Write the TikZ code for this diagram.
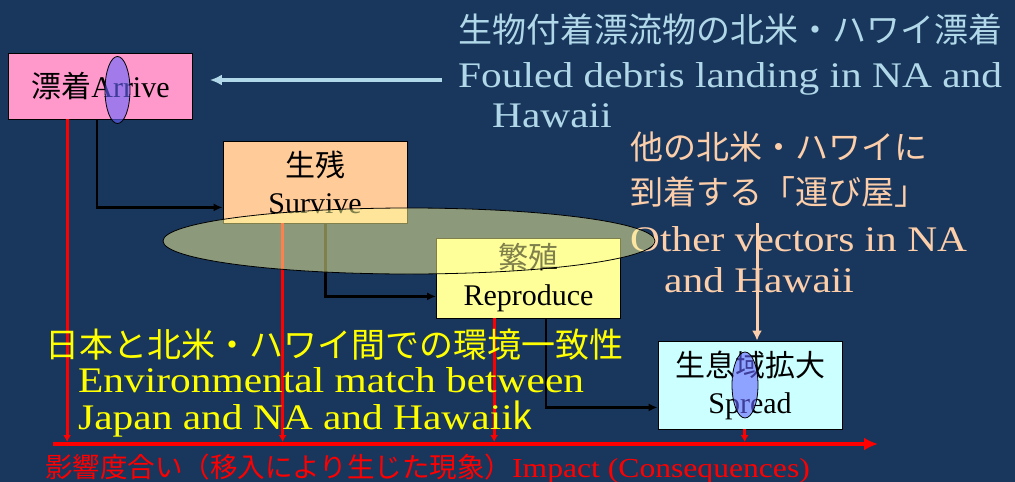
\documentclass[tikz,border=0pt]{standalone}
\usepackage{fontspec}
\setmainfont{Liberation Serif}
\newfontfamily\jp{Noto Sans CJK JP}
\newfontfamily\widerm{Liberation Serif}[FakeStretch=1.15]
\usetikzlibrary{arrows.meta,positioning,calc,shapes.geometric}
\definecolor{bg}{RGB}{25,54,93}
\definecolor{arrivefill}{RGB}{255,153,204}
\definecolor{survivefill}{RGB}{255,204,153}
\definecolor{reprofill}{RGB}{255,255,153}
\definecolor{spreadfill}{RGB}{204,255,255}
\definecolor{lblue}{RGB}{176,216,232}
\definecolor{peach}{RGB}{252,206,170}
\definecolor{yel}{RGB}{255,255,0}
\definecolor{impred}{RGB}{255,0,0}
\definecolor{markfill}{RGB}{102,102,255}

\begin{document}
\begin{tikzpicture}[
    x=1pt,y=-1pt,
    >={Latex[length=9pt,width=8pt]},
    box/.style={
        draw=black,
        line width=0.8pt,
        minimum width=184pt,
        inner sep=0pt,
        align=center,
        text=black,
        font=\fontsize{30}{37}\selectfont
    },
    big/.style={anchor=base west, inner sep=0pt, font=\widerm\fontsize{36}{40}\selectfont},
    bigjp/.style={anchor=base west, inner sep=0pt, font=\jp\fontsize{34}{40}\selectfont},
    conn/.style={->, line width=2.4pt, draw=black},
    hit/.style={->, line width=3pt, draw=impred, >={Latex[length=7pt,width=8pt]}, shorten >=2pt},
    marker/.style={ellipse, draw=black, line width=0.8pt, fill=markfill, fill opacity=0.6, inner sep=0pt}
]

% Background
\fill[bg] (0,0) rectangle (1015,482);
\useasboundingbox (0,0) rectangle (1015,482);

% Stage boxes
\node[box, fill=arrivefill, minimum height=66pt] (arrive) at (100.5,86) {{\jp 漂着}Arrive};
\node[box, fill=survivefill, minimum height=82pt] (survive) at (315,182) {{\jp 生残}\\Survive};
\node[box, fill=reprofill, minimum height=80pt] (repro) at (528.5,278) {{\jp 繁殖}\\Reproduce};
\node[box, fill=spreadfill, minimum height=88pt] (spread) at (750,385) {{\jp 生息域拡大}\\Spread};

% Impact axis
\coordinate (axl) at (53,444);
\coordinate (axr) at (878,444);
\draw[impred, line width=4pt, ->, >={Latex[length=14pt,width=13pt]}] (axl) -- (axr);

% Impact of each stage
\coordinate (i1) at ([xshift=59pt]arrive.south west);
\coordinate (i2) at ([xshift=60pt]survive.south west);
\coordinate (i3) at ([xshift=58pt]repro.south west);
\coordinate (i4) at ([xshift=87pt]spread.south west);
\foreach \p in {i1,i2,i3,i4}
    \draw[hit] (\p) -- (\p |- axl);

% Stage to stage
\coordinate (s1) at ([xshift=89pt]arrive.south west);
\coordinate (s2) at ([xshift=103pt]survive.south west);
\coordinate (s3) at ([xshift=110pt]repro.south west);
\draw[conn] (s1) |- ([yshift=16pt]survive.south west);
\draw[conn] (s2) |- ([yshift=22pt]repro.south west);
\draw[conn] (s3) |- ([yshift=22pt]spread.south west);

% Fouled debris
\node[bigjp, text=lblue] (fouledjp) at (458,42) {生物付着漂流物の北米・ハワイ漂着};
\node[big, text=lblue] (fouled) at (458,87) {Fouled debris landing in NA and};
\node[big, text=lblue] (fouled2) at (492,127) {Hawaii};
\coordinate (lbstart) at (442,80);
\draw[lblue, line width=3.2pt, ->, >={Latex[length=12pt,width=11pt]}] (lbstart) -- ([xshift=17pt]arrive.east |- lbstart);

% Other vectors
\node[bigjp, text=peach, font=\jp\fontsize{33}{40}\selectfont] (vecjp) at (630,159) {他の北米・ハワイに};
\node[bigjp, text=peach, font=\jp\fontsize{33}{40}\selectfont] (vecjp2) at (630,204) {到着する「運び屋」};
\node[big, text=peach] (vec) at (630,251) {Other vectors in NA};
\node[big, text=peach] (vec2) at (664,292) {and Hawaii};
\coordinate (pcstart) at (757,223);
\draw[peach, line width=3pt, ->, >={Latex[length=10pt,width=10pt]}] (pcstart) -- (pcstart |- spread.north);

% Environmental match
\node[bigjp, text=yel] (matchjp) at (45,357) {日本と北米・ハワイ間での環境一致性};
\node[big, text=yel] (match) at (78,392) {Environmental match between};
\node[big, text=yel] (match2) at (78,429) {Japan and NA and Hawaii{\jp k}};

% Impact label
\node[anchor=base west, inner sep=0pt, text=impred, font=\fontsize{27.5}{30}\selectfont] (impact) at (45,477)
{{\jp 影響度合い（移入により生じた現象）}{\widerm Impact (Consequences)}};

% Survive-reproduce ellipse
\node[ellipse, draw=black, line width=0.8pt, fill=reprofill, fill opacity=0.5,
      minimum width=492pt, minimum height=66pt, inner sep=0pt] (envzone) at (409,241) {};

% Markers
\node[marker, minimum width=25pt, minimum height=67pt] (arrivemark) at (117.5,90) {};
\node[marker, minimum width=26pt, minimum height=66pt] (spreadmark) at (745,385) {};

\end{tikzpicture}
\end{document}
